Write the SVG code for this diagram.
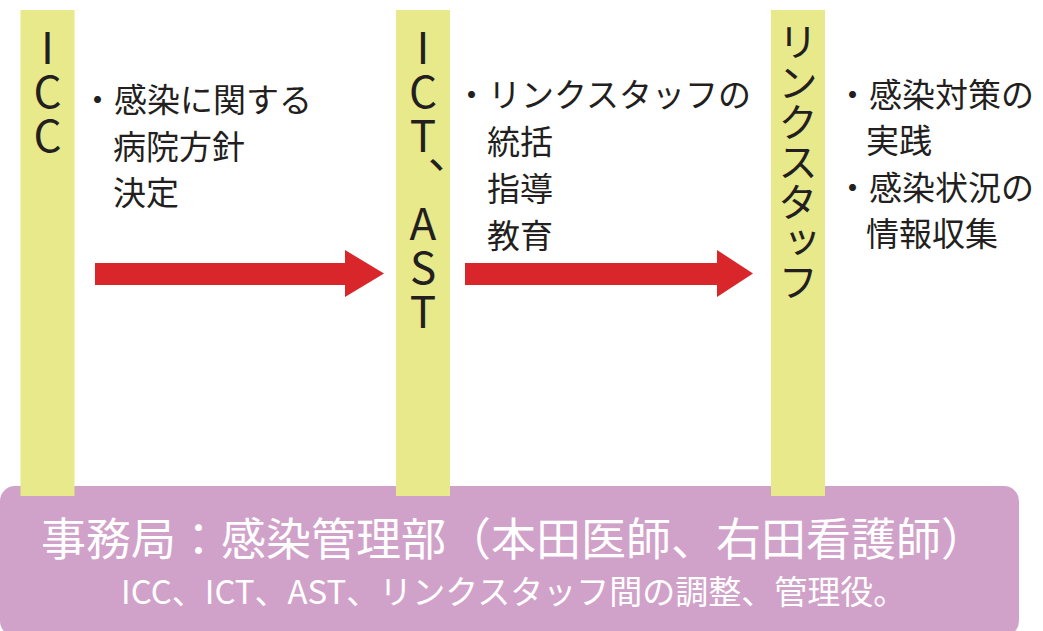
<svg xmlns="http://www.w3.org/2000/svg" width="1043" height="631" viewBox="0 0 1043 631">
<style>
.bar{fill:#e8e98a}
.lbl{font-family:"Noto Sans CJK JP","Noto Sans",sans-serif;fill:#231f20;writing-mode:vertical-rl;text-orientation:upright}
.txt{font-family:"Noto Sans CJK JP","Noto Sans",sans-serif;fill:#231f20;font-size:33px}
.arrow{fill:#d9262a}
.w{font-family:"Noto Sans CJK JP","Noto Sans",sans-serif;fill:#ffffff}
</style>
<rect width="1043" height="631" fill="#ffffff"/>
<g id="office">
<rect x="0" y="486" width="1019" height="150" rx="15" fill="#d1a2c9"/>
<text class="w" x="41" y="556" font-size="45">事務局：感染管理部（本田医師、右田看護師）</text>
<text class="w" x="121" y="604" font-size="33">ICC、ICT、AST、リンクスタッフ間の調整、管理役。</text>
</g>
<g id="icc">
<rect class="bar" x="20.5" y="10" width="54" height="486"/>
<text class="lbl" x="47.5" y="25" font-size="44">ICC</text>
<text class="txt" x="81" y="112">・感染に関する</text>
<text class="txt" x="113" y="159">病院方針</text>
<text class="txt" x="113" y="205">決定</text>
</g>
<g id="ict">
<rect class="bar" x="396" y="10" width="54" height="486"/>
<text class="lbl" x="423" y="25" font-size="44">ICT、AST</text>
<text class="txt" x="455" y="107">・リンクスタッフの</text>
<text class="txt" x="487" y="154">統括</text>
<text class="txt" x="487" y="201">指導</text>
<text class="txt" x="487" y="248">教育</text>
</g>
<g id="link">
<rect class="bar" x="771" y="10" width="54" height="486"/>
<text class="lbl" x="798" y="22" font-size="40">リンクスタッフ</text>
<text class="txt" x="836" y="107">・感染対策の</text>
<text class="txt" x="866" y="153">実践</text>
<text class="txt" x="836" y="200">・感染状況の</text>
<text class="txt" x="866" y="246">情報収集</text>
</g>
<g id="connectors">
<polygon class="arrow" points="95,263 345,263 345,250 384,273.5 345,297 345,285 95,285"/>
<polygon class="arrow" points="465,263 717,263 717,250 753,273.5 717,297 717,285 465,285"/>
</g>
</svg>
